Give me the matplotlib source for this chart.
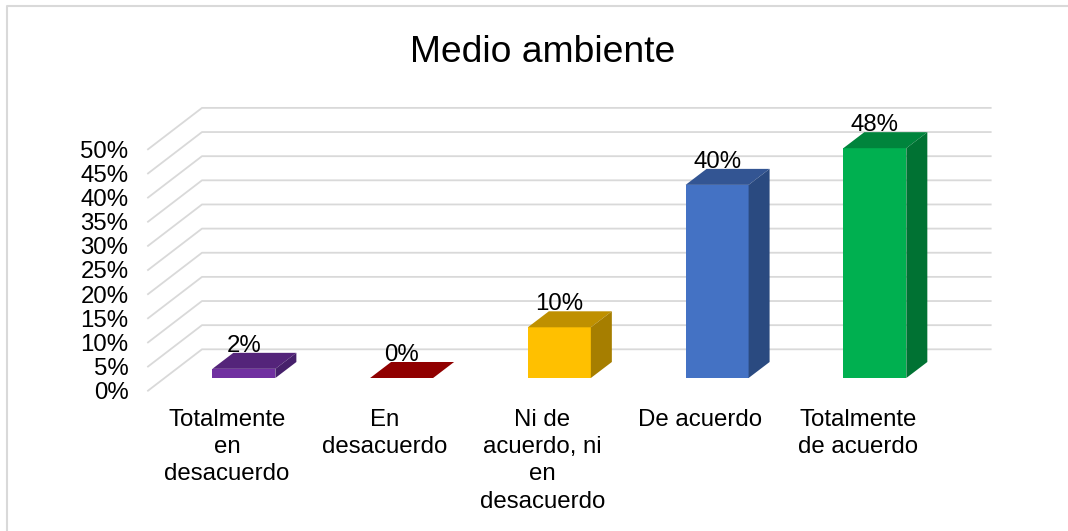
#!/usr/bin/env python3
"""Medio ambiente: fake 3D column chart, Excel style"""

import matplotlib
matplotlib.use('Agg')
import matplotlib.pyplot as plt
from matplotlib.lines import Line2D
from matplotlib.patches import Polygon

plt.rcParams['font.family'] = ['Liberation Sans', 'DejaVu Sans']

categories = ['Totalmente\nen\ndesacuerdo', 'En\ndesacuerdo',
              'Ni de\nacuerdo, ni\nen\ndesacuerdo', 'De acuerdo',
              'Totalmente\nde acuerdo']
values = [1.9, 0, 10.5, 40, 47.6]
value_labels = ['2%', '0%', '10%', '40%', '48%']
y_ticks = [0, 5, 10, 15, 20, 25, 30, 35, 40, 45, 50]

front_colors = ['#7030A0', '#8B0000', '#FFC000', '#4472C4', '#00B050']
top_colors = ['#54247A', '#900000', '#BF9000', '#335593', '#00843C']
side_colors = ['#46206B', '#8B0000', '#A67E00', '#2A4A80', '#007233']

W, H = 1068, 531
GRID = '#D9D9D9'
TEXT_SIZE = 17.3

fig = plt.figure(figsize=(W / 100, H / 100), dpi=100)
# front plane of the fake 3D box, in pixels
left, right, y0, y50 = 148.0, 936.7, 390.7, 149.3
ax = fig.add_axes([left / W, 1 - y0 / H, (right - left) / W, (y0 - y50) / H])
ax.set_xlim(-0.5, 4.5)
ax.set_ylim(0, 50)
for s in ax.spines.values():
    s.set_visible(False)

# pixels to data units
px_x = 5 / (right - left)
px_y = 50 / (y0 - y50)

# walls
wall_dx, wall_dy = 54 * px_x, 41.4 * px_y
for t in y_ticks:
    ax.plot([-0.5, -0.5 + wall_dx, 4.5 + wall_dx], [t, t + wall_dy, t + wall_dy],
            color=GRID, lw=1.3, clip_on=False, zorder=1)

# bars
bar_w = 63 * px_x
off_x, off_y = 17 * px_x, 12.7 * px_y
depth_x, depth_y = 21 * px_x, 16 * px_y
xs = list(range(len(categories)))
for x, v, lab, fc, tc, sc in zip(xs, values, value_labels, front_colors, top_colors, side_colors):
    xc = x + off_x
    x1, x2 = xc - bar_w / 2, xc + bar_w / 2
    b1, b2 = off_y, off_y + v
    ax.bar(xc, v, width=bar_w, bottom=b1, color=fc, zorder=3, clip_on=False)
    ax.add_patch(Polygon([(x1, b2), (x2, b2), (x2 + depth_x, b2 + depth_y), (x1 + depth_x, b2 + depth_y)],
                         closed=True, facecolor=tc, edgecolor='none', zorder=3, clip_on=False))
    ax.add_patch(Polygon([(x2, b1), (x2 + depth_x, b1 + depth_y), (x2 + depth_x, b2 + depth_y), (x2, b2)],
                         closed=True, facecolor=sc, edgecolor='none', zorder=3, clip_on=False))
    ax.text(xc, b2 + depth_y + 1 * px_y, lab, fontsize=TEXT_SIZE, ha='center', va='baseline',
            color='black', zorder=4)

# axis labels
ax.set_yticks(y_ticks)
ax.set_yticklabels([f'{t}%' for t in y_ticks], fontsize=TEXT_SIZE)
ax.set_xticks(xs)
ax.set_xticklabels(categories, fontsize=TEXT_SIZE, linespacing=1.31)
ax.tick_params(axis='y', length=0, pad=14)
ax.tick_params(axis='x', length=0, pad=13)

fig.text(543 / W, 1 - 62 / H, 'Medio ambiente', fontsize=26.8, ha='center', va='baseline')

# chart border, only top and left show in the crop
fig.add_artist(Line2D([6.5 / W, 6.5 / W, 1], [0, 1 - 6 / H, 1 - 6 / H], color=GRID, lw=1.5))

fig.savefig('out.png', dpi=100, facecolor='white')
